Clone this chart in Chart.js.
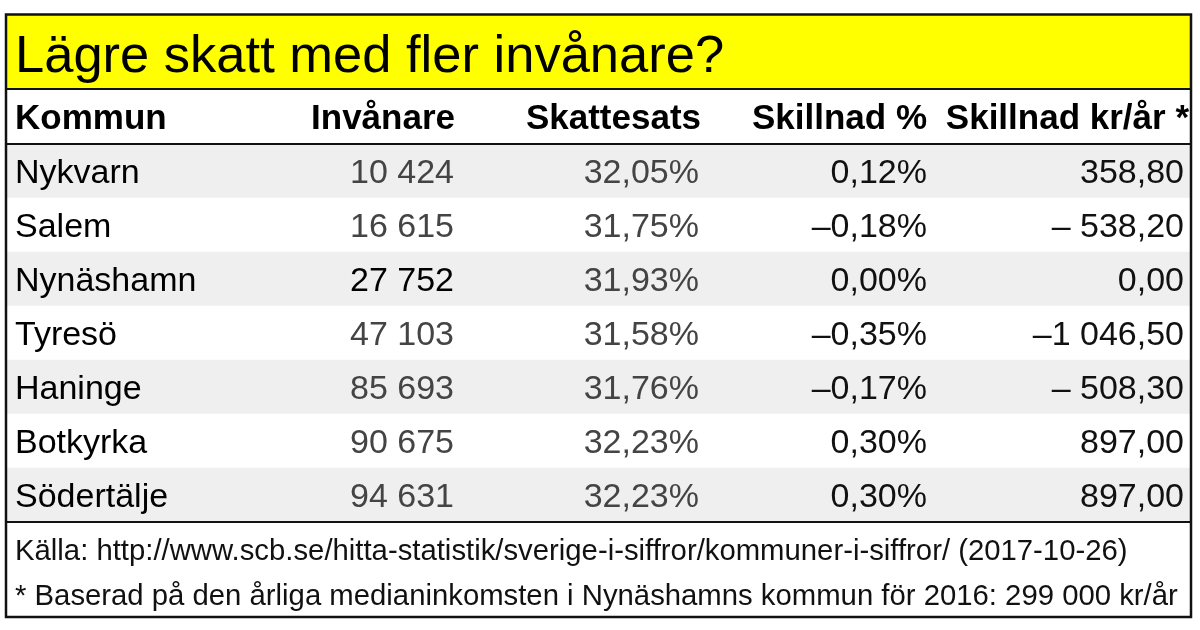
<!DOCTYPE html>
<html lang="sv">
<head>
<meta charset="utf-8">
<title>Lägre skatt med fler invånare?</title>
<script src="https://cdn.jsdelivr.net/npm/chart.js@4"></script>
<style>
  html, body { margin: 0; padding: 0; background: #fff; }
  canvas { display: block; }
</style>
</head>
<body>
<canvas id="tabell" width="1200" height="630"></canvas>
<script>
const titel = 'Lägre skatt med fler invånare?';
const rubriker = ['Kommun', 'Invånare', 'Skattesats', 'Skillnad %', 'Skillnad kr/år *'];
const kommuner = ['Nykvarn', 'Salem', 'Nynäshamn', 'Tyresö', 'Haninge', 'Botkyrka', 'Södertälje'];
const invanare = [10424, 16615, 27752, 47103, 85693, 90675, 94631];
const skattesats = [32.05, 31.75, 31.93, 31.58, 31.76, 32.23, 32.23];
const skillnadProcent = [0.12, -0.18, 0.00, -0.35, -0.17, 0.30, 0.30];
const skillnadKronor = [358.80, -538.20, 0.00, -1046.50, -508.30, 897.00, 897.00];
const kalla = 'Källa: http://www.scb.se/hitta-statistik/sverige-i-siffror/kommuner-i-siffror/ (2017-10-26)';
const fotnot = '* Baserad på den årliga medianinkomsten i Nynäshamns kommun för 2016: 299 000 kr/år';
const referens = 'Nynäshamn';

const FONT = '"Liberation Sans", Arial, Helvetica, sans-serif';

// Swedish number formatting: space as thousands separator, comma as decimal mark
const tusental = (s) => s.replace(/\B(?=(\d{3})+(?!\d))/g, ' ');
const decimal = (v, d) => {
    const [heltal, dec] = Math.abs(v).toFixed(d).split('.');
    return dec ? `${tusental(heltal)},${dec}` : tusental(heltal);
};
const formatProcent = (v) => (v < 0 ? '–' : '') + decimal(v, 2) + '%';
const formatKronor = (v) => {
    if (v >= 0) return decimal(v, 2);
    return (Math.abs(v) >= 1000 ? '–' : '– ') + decimal(v, 2);
};

// Column anchors on the x scale (0..1185 across the table)
const kolumner = [
    { x: 9, align: 'left', text: (i) => kommuner[i], color: () => '#000' },
    { x: 448, align: 'right', text: (i) => decimal(invanare[i], 0), color: (i) => (kommuner[i] === referens ? '#000' : '#444') },
    { x: 693, align: 'right', text: (i) => decimal(skattesats[i], 2) + '%', color: () => '#444' },
    { x: 921, align: 'right', text: (i) => formatProcent(skillnadProcent[i]), color: () => '#111' },
    { x: 1178, align: 'right', text: (i) => formatKronor(skillnadKronor[i]), color: () => '#111' },
];
const rubrikX = [9, 449, 695, 921, 1183];

const tabellRam = {
    id: 'tabellRam',
    beforeDraw(chart) {
        const { ctx, chartArea } = chart;
        ctx.save();
        ctx.fillStyle = '#fff';
        ctx.fillRect(0, 0, chart.width, chart.height);
        // yellow title band
        ctx.fillStyle = '#ffff00';
        ctx.fillRect(chartArea.left, 15, chartArea.right - chartArea.left, 74);
        ctx.restore();
    },
    afterDraw(chart) {
        const { ctx, chartArea, scales } = chart;
        const x = scales.x;
        const y = scales.y;
        const radH = y.getPixelForValue(1) - y.getPixelForValue(0);

        ctx.save();
        ctx.textBaseline = 'alphabetic';

        // title
        ctx.fillStyle = '#000';
        ctx.font = `52.5px ${FONT}`;
        ctx.textAlign = 'left';
        ctx.fillText(titel, x.getPixelForValue(9), 72);

        // header row
        ctx.font = `bold 35px ${FONT}`;
        const rubrikY = chartArea.top - radH / 2 + 12;
        rubriker.forEach((r, k) => {
            ctx.textAlign = k === 0 ? 'left' : 'right';
            ctx.fillText(r, x.getPixelForValue(rubrikX[k]), rubrikY);
        });

        // body rows
        ctx.font = `34px ${FONT}`;
        kommuner.forEach((_, i) => {
            const py = y.getPixelForValue(i) + 12;
            kolumner.forEach((kol) => {
                ctx.textAlign = kol.align;
                ctx.fillStyle = kol.color(i);
                ctx.fillText(kol.text(i), x.getPixelForValue(kol.x), py);
            });
        });

        // footer
        ctx.fillStyle = '#111';
        ctx.textAlign = 'left';
        ctx.font = `29.3px ${FONT}`;
        ctx.fillText(kalla, x.getPixelForValue(9), chartArea.bottom + 38);
        ctx.fillText(fotnot, x.getPixelForValue(9), chartArea.bottom + 83);

        // rules and outer frame
        ctx.strokeStyle = '#111';
        ctx.lineWidth = 2;
        [89, chartArea.top, chartArea.bottom].forEach((ly) => {
            ctx.beginPath();
            ctx.moveTo(chartArea.left, ly);
            ctx.lineTo(chartArea.right, ly);
            ctx.stroke();
        });
        ctx.lineWidth = 2.5;
        ctx.strokeRect(chartArea.left, 14.5, chartArea.right - chartArea.left, 617 - 14.5);
        ctx.restore();
    }
};

new Chart(document.getElementById('tabell'), {
    type: 'bar',
    data: {
        labels: kommuner,
        datasets: [{
            label: 'rader',
            data: kommuner.map(() => [0, 1185]),
            backgroundColor: kommuner.map((_, i) => (i % 2 === 0 ? '#efefef' : '#ffffff')),
            borderWidth: 0,
            barPercentage: 1,
            categoryPercentage: 1,
        }],
    },
    options: {
        responsive: false,
        animation: false,
        events: [],
        indexAxis: 'y',
        layout: { padding: { left: 6, right: 9, top: 144, bottom: 108 } },
        scales: {
            x: { type: 'linear', min: 0, max: 1185, display: false },
            y: { type: 'category', display: false },
        },
        plugins: {
            legend: { display: false },
            tooltip: { enabled: false },
            title: { display: false },
        },
    },
    plugins: [tabellRam],
});
</script>
</body>
</html>
